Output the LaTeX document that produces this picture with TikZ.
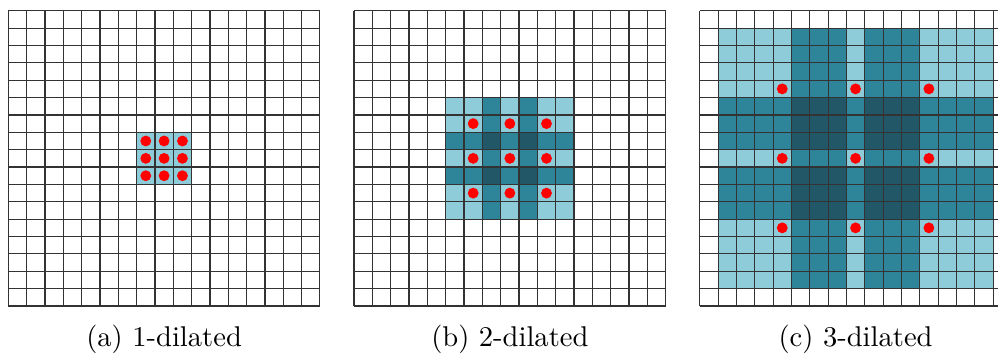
\documentclass[tikz,border=0pt]{standalone}

\definecolor{fieldlight}{RGB}{143,204,217}
\definecolor{fieldmid}{RGB}{46,133,153}
\definecolor{fielddark}{RGB}{33,87,103}

\begin{document}
\begin{tikzpicture}[x=6.4155pt,y=6.0795pt,
  gridlines/.style={line width=0.4pt, draw=black!80},
  kernelpt/.style={fill=red}]
\clip (-0.4530,-2.7060) rectangle (53.9900,17.6160);
% (a) 1-dilated
\fill[fieldlight] (7,7) rectangle (10,10);
\draw[gridlines] (0,0) grid[step=1] (17,17);
\foreach \x in {7.5,8.5,9.5} \foreach \y in {7.5,8.5,9.5}
  \fill[kernelpt] (\x,\y) circle (1.9pt);
\node (capa) at (8.5,-1.93) {(a) 1-dilated};
% (b) 2-dilated
\begin{scope}[shift={(18.86,0)}]
\fill[fieldlight] (5,5) rectangle (12,12);
\fill[fieldmid] (7,5) rectangle (8,12);
\fill[fieldmid] (9,5) rectangle (10,12);
\fill[fieldmid] (5,7) rectangle (12,8);
\fill[fieldmid] (5,9) rectangle (12,10);
\fill[fielddark] (7,7) rectangle (8,8);
\fill[fielddark] (9,7) rectangle (10,8);
\fill[fielddark] (7,9) rectangle (8,10);
\fill[fielddark] (9,9) rectangle (10,10);
\draw[gridlines] (0,0) grid[step=1] (17,17);
\foreach \x in {6.5,8.5,10.5} \foreach \y in {6.5,8.5,10.5}
  \fill[kernelpt] (\x,\y) circle (1.9pt);
\node (capb) at (8.5,-1.93) {(b) 2-dilated};
\end{scope}
% (c) 3-dilated
\begin{scope}[shift={(37.72,0)}]
\fill[fieldlight] (1,1) rectangle (16,16);
\fill[fieldmid] (5,1) rectangle (8,16);
\fill[fieldmid] (9,1) rectangle (12,16);
\fill[fieldmid] (1,5) rectangle (16,8);
\fill[fieldmid] (1,9) rectangle (16,12);
\fill[fielddark] (5,5) rectangle (8,8);
\fill[fielddark] (9,5) rectangle (12,8);
\fill[fielddark] (5,9) rectangle (8,12);
\fill[fielddark] (9,9) rectangle (12,12);
\draw[gridlines] (0,0) grid[step=1] (17,17);
\foreach \x in {4.5,8.5,12.5} \foreach \y in {4.5,8.5,12.5}
  \fill[kernelpt] (\x,\y) circle (1.9pt);
\node (capc) at (8.5,-1.93) {(c) 3-dilated};
\end{scope}
\end{tikzpicture}
\end{document}
